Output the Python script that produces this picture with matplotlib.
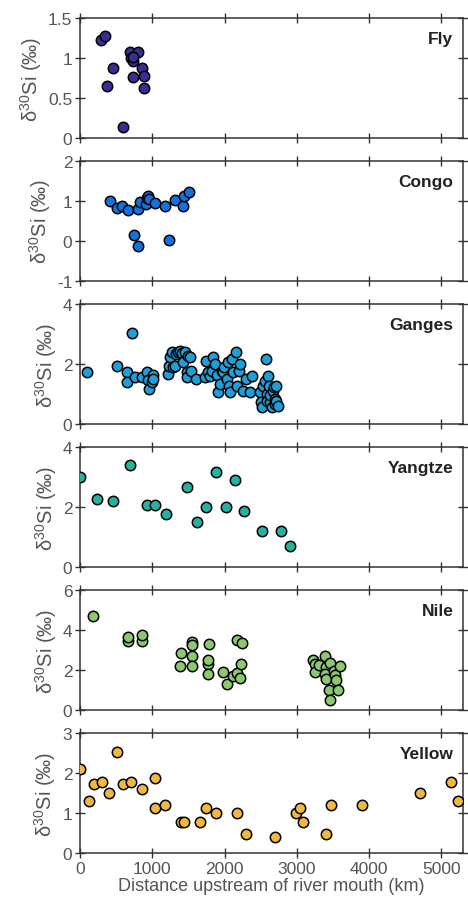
import matplotlib
matplotlib.use("Agg")
import matplotlib.pyplot as plt
from matplotlib.ticker import FuncFormatter

plt.rcParams['font.family'] = ['Liberation Sans', 'DejaVu Sans']

# data (distance km, d30Si permil)
fly_x = [290, 346, 369, 461, 599, 691, 806, 705, 737, 737, 737, 853, 885, 885]
fly_y = [1.23, 1.28, 0.65, 0.875, 0.14, 1.075, 1.08, 1.01, 0.97, 1.02, 0.77, 0.88, 0.78, 0.625]

congo_x = [415, 507, 576, 668, 747, 806, 806, 829, 908, 922, 945, 954, 1037, 1175, 1230,
           1313, 1429, 1438, 1507]
congo_y = [1.0, 0.82, 0.87, 0.78, 0.15, -0.14, 0.79, 0.98, 0.92, 1.08, 1.13, 1.04, 0.94, 0.87, 0.03,
           1.03, 0.87, 1.11, 1.21]

ganges_x = [92, 507, 645, 645, 724, 760, 853, 922, 945, 954, 991, 1005, 1014,
            1221, 1235, 1244, 1267, 1290, 1313, 1327, 1359, 1382, 1405, 1429, 1452, 1475, 1484,
            1498, 1521, 1535, 1604, 1728, 1737, 1774, 1797, 1820, 1834, 1866, 1889, 1912, 1935,
            1959, 1972, 1991, 2028, 2051, 2065, 2074, 2097, 2120, 2157, 2175, 2203, 2221, 2249,
            2304, 2359, 2387, 2488, 2498, 2512, 2535, 2558, 2571, 2581, 2590, 2604, 2618, 2627,
            2636, 2650, 2673, 2682, 2696, 2696, 2710, 2719, 2742]
ganges_y = [1.72, 1.94, 1.72, 1.39, 3.02, 1.56, 1.56, 1.72, 1.48, 1.17, 1.39, 1.63, 1.5,
            1.67, 1.94, 2.22, 2.39, 1.89, 1.92, 2.33, 2.39, 2.44, 2.36, 2.06, 2.39, 1.72, 1.56,
            2.28, 2.22, 1.78, 1.5, 1.56, 2.11, 1.72, 1.61, 1.78, 2.22, 2.0, 1.63, 1.06, 1.33,
            1.78, 1.72, 1.89, 1.5, 2.08, 1.28, 1.08, 2.17, 1.72, 2.41, 1.28, 1.78, 2.0, 1.11,
            1.5, 1.06, 1.61, 1.06, 0.72, 0.56, 1.28, 1.44, 2.17, 1.0, 0.78, 1.61, 1.28, 0.72,
            0.97, 0.56, 1.11, 1.22, 0.83, 0.67, 1.28, 0.78, 0.61]

yangtze_x = [0, 230, 461, 691, 922, 1041, 1184, 1484, 1622, 1742, 1880, 2018, 2138, 2276,
             2512, 2788, 2903]
yangtze_y = [3.02, 2.27, 2.21, 3.41, 2.09, 2.09, 1.78, 2.67, 1.51, 2.0, 3.18, 2.0, 2.9, 1.89,
             1.22, 1.22, 0.72]

nile_x = [184, 668, 668, 853, 853, 1392, 1383, 1544, 1553, 1553, 1553, 1788, 1774, 1765,
          1765, 2175, 2235, 1973, 2028, 2111, 2175, 2212, 2226,
          3226, 3249, 3249, 3309, 3387, 3401, 3387, 3410, 3456, 3512, 3526, 3539, 3595,
          3447, 3572, 3456]
nile_y = [4.68, 3.47, 3.63, 3.45, 3.77, 2.85, 2.22, 3.42, 3.25, 2.72, 2.22, 3.3, 2.3, 2.5,
          1.8, 3.5, 3.35, 1.92, 1.3, 1.72, 1.85, 1.58, 2.3,
          2.52, 2.3, 1.88, 2.25, 2.72, 2.13, 1.8, 1.55, 2.35, 1.97, 1.75, 1.52, 2.22,
          1.02, 1.02, 0.5]

yellow_x = [0, 129, 198, 300, 406, 516, 599, 700, 853, 1037, 1037, 1175, 1396, 1438, 1659,
            1742, 1880, 2175, 2304, 2696, 2995, 3041, 3088, 3401, 3479, 3908, 4700, 5138, 5230]
yellow_y = [2.10, 1.30, 1.72, 1.78, 1.51, 2.52, 1.72, 1.78, 1.59, 1.88, 1.12, 1.2, 0.78, 0.78,
            0.78, 1.12, 1.0, 1.0, 0.48, 0.40, 1.0, 1.12, 0.78, 0.48, 1.2, 1.2, 1.51, 1.78, 1.30]

rivers = ['Fly', 'Congo', 'Ganges', 'Yangtze', 'Nile', 'Yellow']
xs = [fly_x, congo_x, ganges_x, yangtze_x, nile_x, yellow_x]
ys = [fly_y, congo_y, ganges_y, yangtze_y, nile_y, yellow_y]
colors = ['#3a2e94', '#1472de', '#1e9fd8', '#26b2a0', '#8cc870', '#efb840']
ylims = [(0, 1.5), (-1, 2), (0, 4), (0, 4), (0, 6), (0, 3)]
yticks = [[0, 0.5, 1, 1.5], [-1, 0, 1, 2], [0, 2, 4], [0, 2, 4], [0, 2, 4, 6], [0, 1, 2, 3]]

fig = plt.figure(figsize=(4.68, 9.03), dpi=100)
grey = '#555555'
left, width = 80 / 468, 383 / 468
h = 120 / 903
tops = [19.3, 161.7, 305, 448.3, 591, 734]

for i in range(6):
    ax = fig.add_axes([left, 1 - (tops[i] + 120) / 903, width, h])
    ax.scatter(xs[i], ys[i], s=56, c=colors[i], edgecolors='black', linewidths=1.1, zorder=3)
    ax.set_xlim(0, 5300)
    ax.set_ylim(*ylims[i])
    ax.set_yticks(yticks[i])
    ax.yaxis.set_major_formatter(FuncFormatter(lambda v, p: '%g' % v))
    ax.set_xticks([0, 1000, 2000, 3000, 4000, 5000])
    ax.tick_params(direction='inout', length=7, width=1, top=True, right=True,
                   labelsize=12.5, labelcolor=grey, color='#333333', pad=2)
    for s in ax.spines.values():
        s.set_color('#333333')
        s.set_linewidth(1.1)
    if i < 5:
        ax.tick_params(labelbottom=False)
    else:
        ax.set_xlabel('Distance upstream of river mouth (km)', fontsize=13, color=grey, labelpad=1)
    ax.set_ylabel(r'$\mathregular{\delta^{30}}$Si (‰)', fontsize=14.5, color=grey, labelpad=3)
    ax.text(0.975, 0.83, rivers[i], transform=ax.transAxes, ha='right', va='center',
            fontsize=12.5, fontweight='bold', color='#222222')

fig.savefig('out.png', dpi=100)
